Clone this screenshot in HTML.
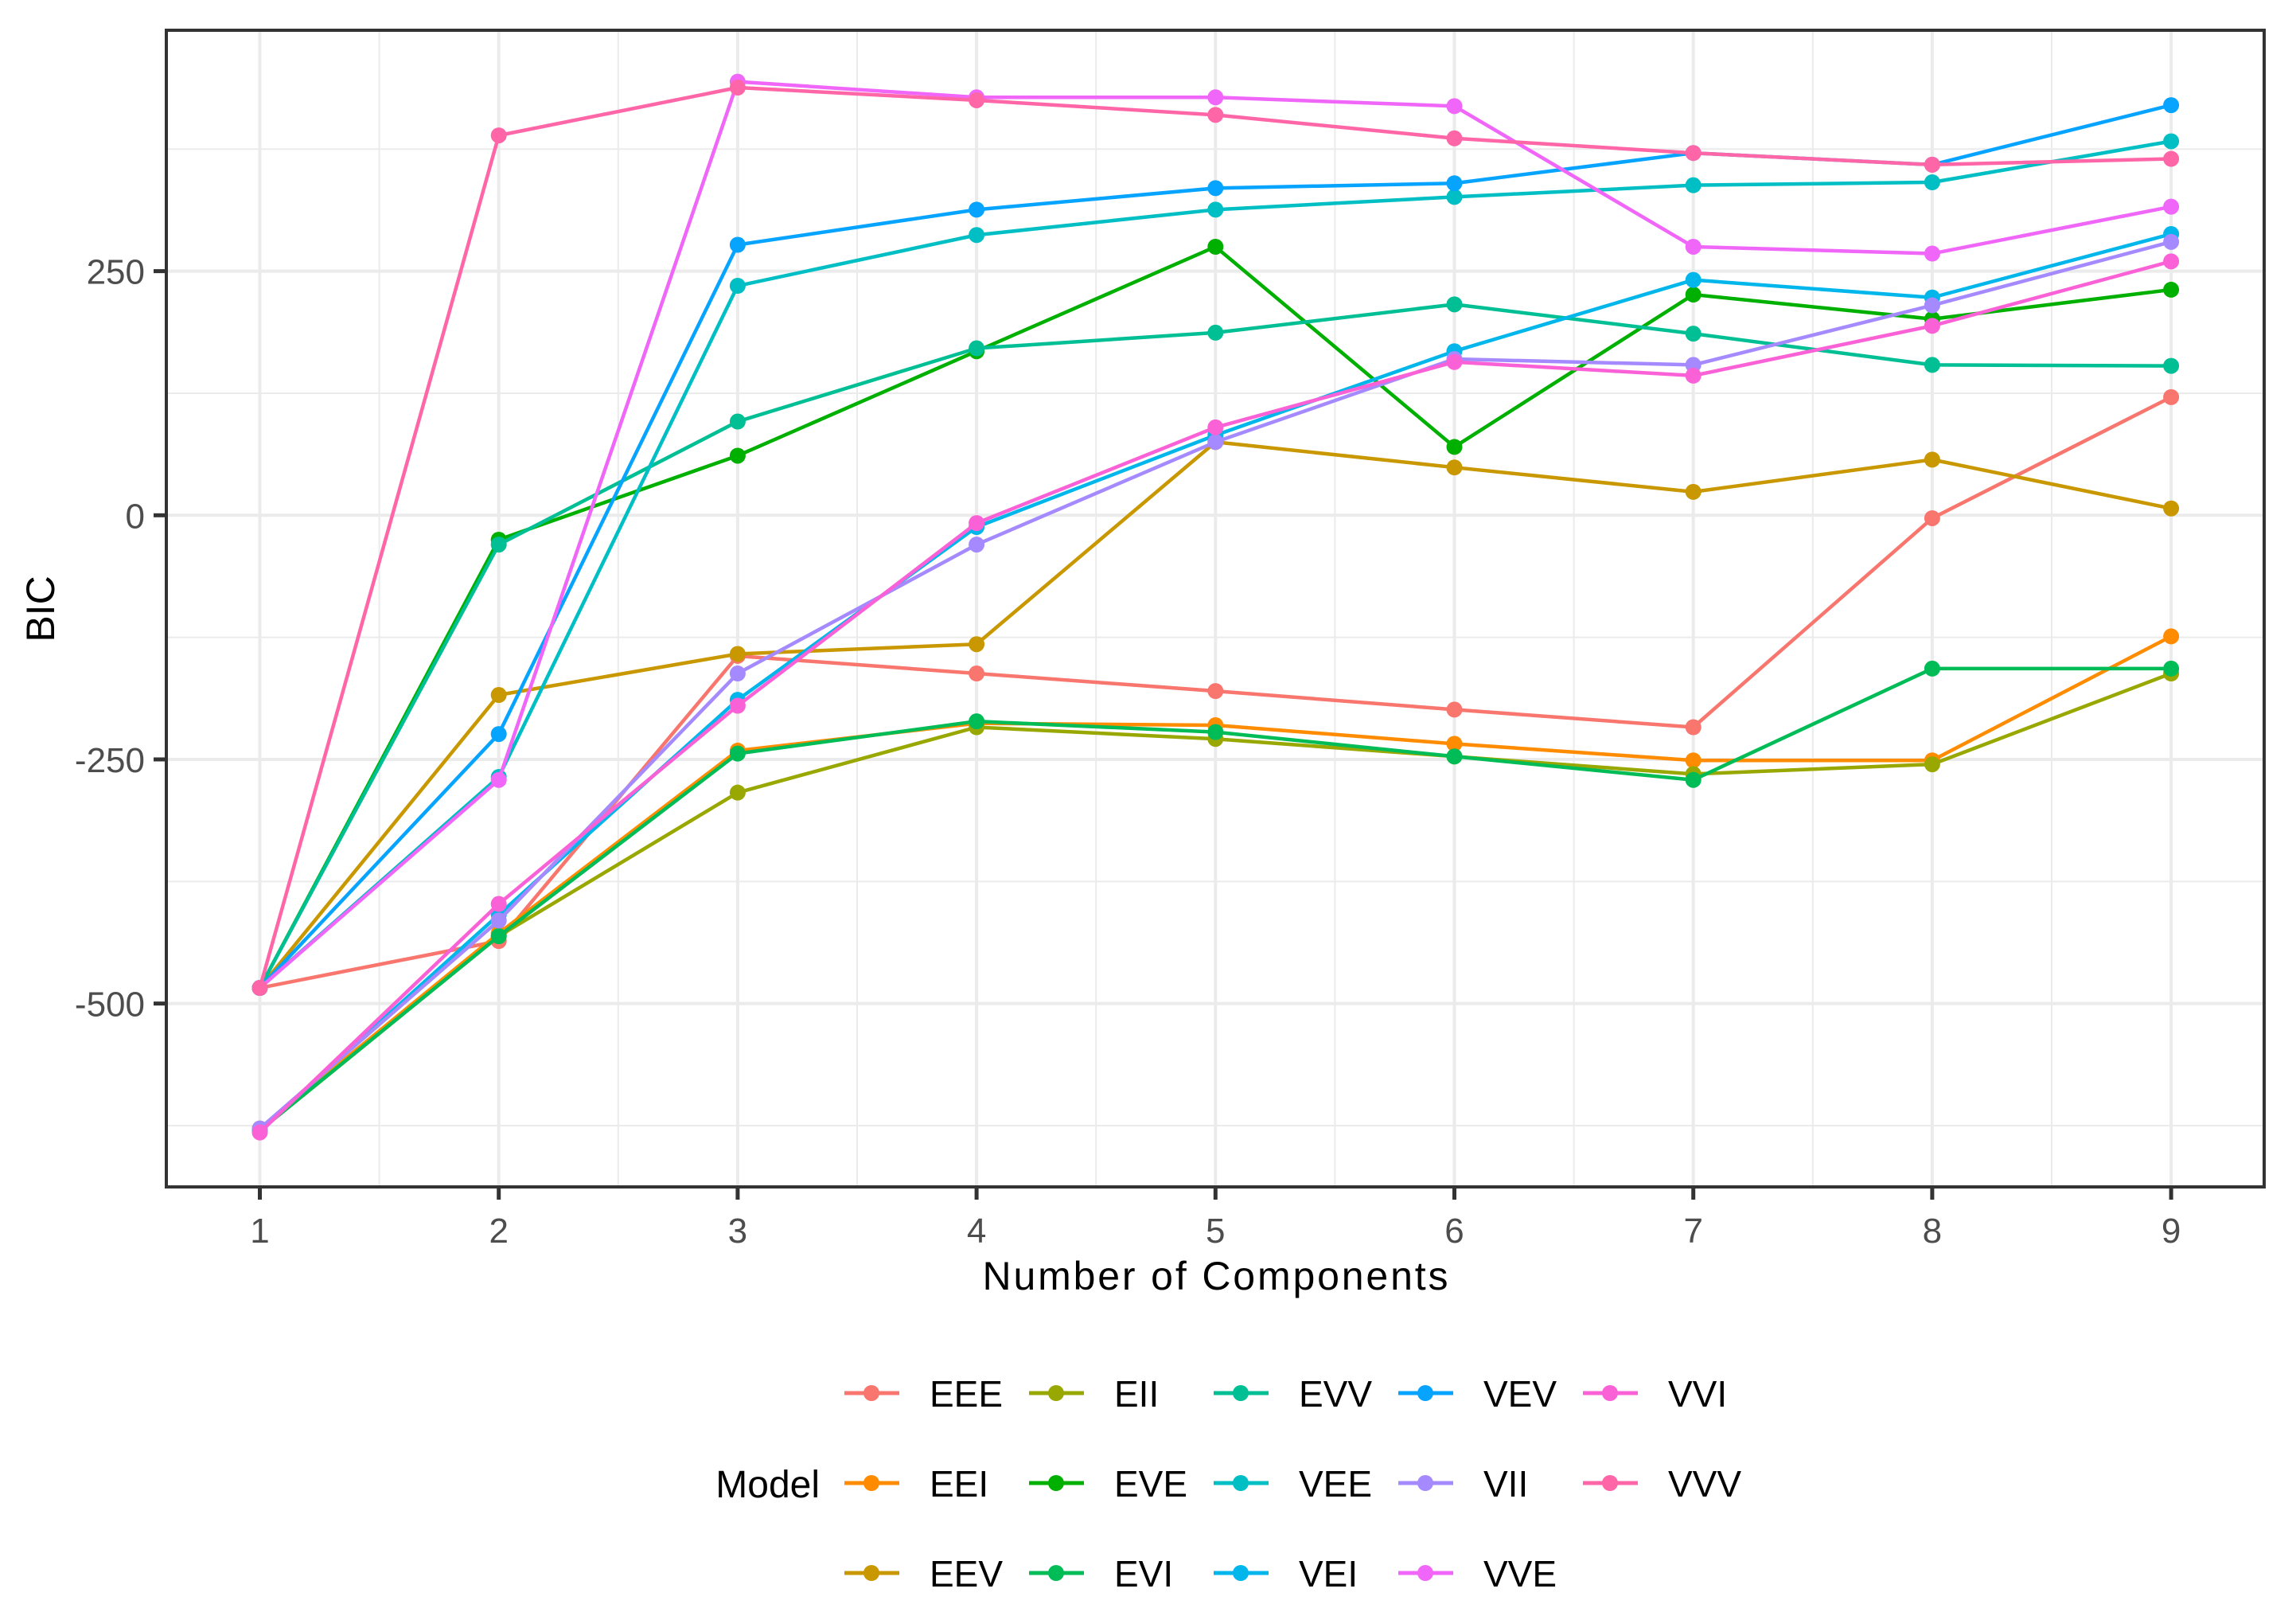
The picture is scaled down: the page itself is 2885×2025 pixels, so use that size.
<!DOCTYPE html>
<html><head><meta charset="utf-8"><style>
html,body{margin:0;padding:0;background:#fff;}
svg{display:block;font-family:"Liberation Sans",Arial,sans-serif;}
</style></head><body>
<svg id="chart" width="2885" height="2025" viewBox="0 0 2885 2025" xmlns="http://www.w3.org/2000/svg">
<rect x="0" y="0" width="2885" height="2025" fill="#fff"/>
<g id="grid"></g>
<g id="series"></g>
<rect x="209" y="38" width="2636" height="1453" fill="none" stroke="#333" stroke-width="4"/>
<g id="axes"></g>
<text x="1527" y="1620" font-size="50" text-anchor="middle" fill="#000" textLength="585">Number of Components</text>
<text transform="translate(68,765) rotate(-90)" font-size="50" text-anchor="middle" fill="#000">BIC</text>
<g id="legend">
<text x="1030" y="1881" font-size="48" text-anchor="end" fill="#000">Model</text>
</g>
</svg>
<script>
const models = ["EEE","EEI","EEV","EII","EVE","EVI","EVV","VEE","VEI","VEV","VII","VVE","VVI","VVV"];
const colors = ["#F8766D","#FF8C00","#C99800","#99A800","#00B000","#00BC56","#00BF94","#00BFC4","#00B6EB","#06A4FF","#A58AFF","#F066F8","#FB61D7","#FF66A8"];
const components = [1,2,3,4,5,6,7,8,9];
const xTicks = [1,2,3,4,5,6,7,8,9];
const yTicks = [-500,-250,0,250];
const yTickLabels = ["-500","-250","0","250"];
const yMinor = [-625,-375,-125,125,375];
const xMinor = [1.5,2.5,3.5,4.5,5.5,6.5,7.5,8.5];
const vEEE = [-484,-436,-144,-162,-180,-199,-217,-3,121];
const vEEI = [-628,-428,-241,-213,-215,-234,-251,-251,-124];
const vEEV = [-484,-184,-142,-132,75,49,24,57,7];
const vEII = [-630,-431,-284,-217,-229,-247,-265,-255,-162];
const vEVE = [-484,-25,61,168,275,70,226,201,231];
const vEVI = [-630,-431,-244,-211,-222,-247,-271,-157,-157];
const vEVV = [-484,-30,96,171,187,216,186,154,153];
const vVEE = [-484,-268,235,287,313,326,338,341,383];
const vVEI = [-630,-409,-189,-12,82,168,241,223,288];
const vVEV = [-484,-224,277,313,335,340,371,359,420];
const vVII = [-628,-415,-162,-30,75,160,154,215,280];
const vVVE = [-484,-271,444,428,428,419,275,268,316];
const vVVI = [-632,-398,-195,-8,90,157,143,194,260];
const vVVV = [-484,389,438,425,410,386,371,359,365];
const seriesValues = [vEEE,vEEI,vEEV,vEII,vEVE,vEVI,vEVV,vVEE,vVEI,vVEV,vVII,vVVE,vVVI,vVVV];

const NS = "http://www.w3.org/2000/svg";
function xs(v){ return 326.5 + (v-1)*300.2; }
function ys(v){ return 647.3 - v*1.2267; }
function mk(tag, attrs, parent){ const e=document.createElementNS(NS,tag); for(const k in attrs) e.setAttribute(k,attrs[k]); parent.appendChild(e); return e; }

const grid=document.getElementById('grid');
const L=209,R=2845,T=38,B=1491;
yMinor.forEach(v=>{ const e=mk('line',{x1:L,x2:R,y1:ys(v),y2:ys(v),stroke:'#EBEBEB','stroke-width':2},grid);

 });
xMinor.forEach(v=>{ const e=mk('line',{x1:xs(v),x2:xs(v),y1:T,y2:B,stroke:'#EBEBEB','stroke-width':2},grid);

 });
yTicks.forEach(v=>{ const e=mk('line',{x1:L,x2:R,y1:ys(v),y2:ys(v),stroke:'#EBEBEB','stroke-width':4},grid);

 });
xTicks.forEach(v=>{ const e=mk('line',{x1:xs(v),x2:xs(v),y1:T,y2:B,stroke:'#EBEBEB','stroke-width':4},grid);

 });

const axes=document.getElementById('axes');
xTicks.forEach(v=>{
 const t=mk('line',{x1:xs(v),x2:xs(v),y1:B+2,y2:B+16,stroke:'#333','stroke-width':5},axes);
 
 
 const tx=mk('text',{x:xs(v),y:1561,'font-size':44,'text-anchor':'middle',fill:'#4D4D4D'},axes);
 tx.textContent=String(v);
 
 
});
yTicks.forEach((v,i)=>{
 const t=mk('line',{x1:193,x2:207,y1:ys(v),y2:ys(v),stroke:'#333','stroke-width':5},axes);
 
 
 const tx=mk('text',{x:182,y:ys(v)+16,'font-size':44,'text-anchor':'end',fill:'#4D4D4D'},axes);
 tx.textContent=yTickLabels[i];
 
 
});

const sg=document.getElementById('series');
models.forEach((m,i)=>{
 const g=mk('g',{},sg);
 
 
 const vals=seriesValues[i];
 const pts=vals.map((v,j)=>xs(components[j])+','+ys(v)).join(' ');
 const pl=mk('polyline',{points:pts,fill:'none',stroke:colors[i],'stroke-width':4.5,'stroke-linejoin':'round'},g);
 
 
 vals.forEach((v,j)=>{
  const c=mk('circle',{cx:xs(components[j]),cy:ys(v),r:10,fill:colors[i]},g);
  
  
 });
});

const lg=document.getElementById('legend');
const colX=[1095,1327,1559,1791,2023];
const rowY=[1750,1863,1976];
models.forEach((m,i)=>{
 const col=Math.floor(i/3), row=i%3;
 const cx=colX[col], cy=rowY[row];
 const g=mk('g',{},lg);
 
 
 mk('line',{x1:cx-34,x2:cx+35,y1:cy,y2:cy,stroke:colors[i],'stroke-width':5},g);
 mk('circle',{cx:cx,cy:cy,r:10,fill:colors[i]},g);
 const t=mk('text',{x:cx+73,y:cy+17,'font-size':46,fill:'#000'},g);
 t.textContent=m;
});
</script>
</body></html>
